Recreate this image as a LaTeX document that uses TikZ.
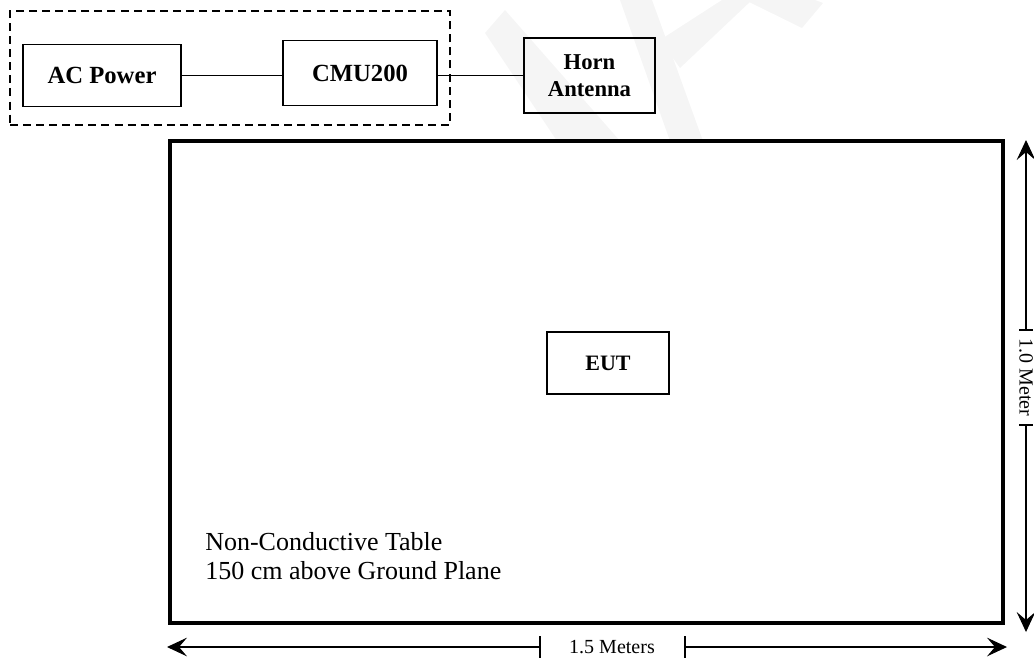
\documentclass[tikz,border=0pt]{standalone}
\usepackage{fontspec}
\setmainfont{Liberation Serif}
\usetikzlibrary{arrows.meta}
\begin{document}
\begin{tikzpicture}[x=0.75pt,y=-0.75pt,
  box/.style={draw, line width=1.2pt, inner sep=0pt, align=center,
    font=\fontsize{18.5}{20}\selectfont\bfseries},
  wire/.style={line width=1pt},
  dimline/.style={line width=0.8pt, -{Stealth[length=15pt,width=14pt,inset=6pt]}},
  tick/.style={line width=0.8pt},
  dimlabel/.style={inner sep=0pt, font=\fontsize{15}{17}\selectfont},
  wm/.style={fill=black!4, draw=none}]
\useasboundingbox (0,0) rectangle (1034,664);
% faint watermark strokes
\fill[wm] (485,33) -- (505,10) -- (620,141) -- (557,141) -- cycle;
\fill[wm] (620,0) -- (652,0) -- (703,141) -- (670,141) -- cycle;
\fill[wm] (660,40) -- (680,68) -- (752,0) -- (722,0) -- cycle;
\fill[wm] (745,0) -- (802,28) -- (823,3) -- (815,0) -- cycle;
% group (dashed)
\node[draw, dash pattern=on 6pt off 3.8pt, line width=1.2pt, minimum width=330pt, minimum height=85.5pt] (grp) at (230,68) {};
% boxes
\node[box, minimum width=118.5pt, minimum height=46.5pt] (ac) at (102,75.5) {AC Power};
\node[box, minimum width=115.5pt, minimum height=48.75pt] (cmu) at (360,73) {CMU200};
\node[box, minimum width=98.25pt, minimum height=56.25pt, font=\fontsize{17}{20}\selectfont\bfseries] (horn) at (589.5,75.5) {Horn\\Antenna};
\draw[wire] (ac.east) -- (ac.east -| cmu.west);
\draw[wire] (cmu.east |- ac.east) -- (ac.east -| horn.west);
% table
\node[draw, line width=2.8pt, fill=white, minimum width=624.75pt, minimum height=361.5pt] (table) at (586.5,382) {};
\node[box, minimum width=91.5pt, minimum height=46.5pt, font=\fontsize{16.5}{18}\selectfont\bfseries] (eut) at (608,363) {EUT};
\node[anchor=north west, align=left, inner sep=0pt, font=\fontsize{19.5}{22}\selectfont] (note) at (205,532) {Non-Conductive Table\\150 cm above Ground Plane};
% vertical dimension
\coordinate (vtop) at (1026,140);
\coordinate (vbot) at (1026,632);
\coordinate (vt1) at (1026,330);
\coordinate (vt2) at (1026,425);
\node[dimlabel, rotate=-90] (vlab) at (1026,377.5) {1.0 Meter};
\draw[dimline] (vt1) -- (vtop);
\draw[dimline] (vt2) -- (vbot);
\draw[tick] ([xshift=-5pt]vt1) -- ([xshift=5pt]vt1);
\draw[tick] ([xshift=-5pt]vt2) -- ([xshift=5pt]vt2);
% horizontal dimension
\coordinate (hl) at (167,647);
\coordinate (hr) at (1007,647);
\coordinate (ht1) at (540,647);
\coordinate (ht2) at (685,647);
\node[dimlabel] (hlab) at (612,647) {1.5 Meters};
\draw[dimline] (ht1) -- (hl);
\draw[dimline] (ht2) -- (hr);
\draw[tick] ([yshift=-8pt]ht1) -- ([yshift=8pt]ht1);
\draw[tick] ([yshift=-8pt]ht2) -- ([yshift=8pt]ht2);
\end{tikzpicture}
\end{document}
